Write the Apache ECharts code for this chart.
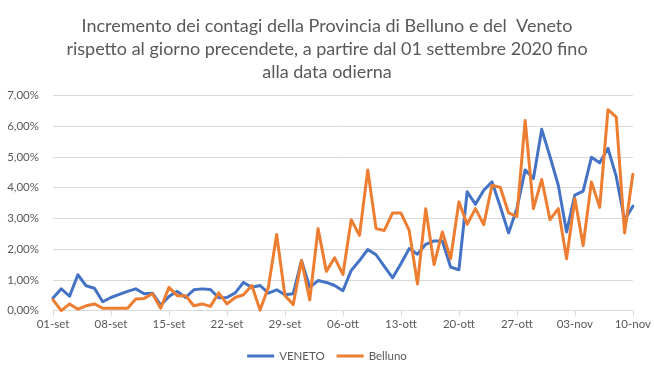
<!DOCTYPE html>
<html>
<head>
<meta charset="utf-8">
<script src="https://cdn.jsdelivr.net/npm/echarts@6/dist/echarts.min.js"></script>
<style>
html,body{margin:0;padding:0;background:#fff;}
#c{width:654px;height:372px;}
</style>
</head>
<body>
<div id="c"></div>
<script>
const titleLines = [
  'Incremento dei contagi della Provincia di Belluno e del  Veneto',
  'rispetto al giorno precendete, a partire dal 01 settembre 2020 fino',
  'alla data odierna'
];
const categories = [
  '01-set','02-set','03-set','04-set','05-set','06-set','07-set','08-set','09-set','10-set',
  '11-set','12-set','13-set','14-set','15-set','16-set','17-set','18-set','19-set','20-set',
  '21-set','22-set','23-set','24-set','25-set','26-set','27-set','28-set','29-set','30-set',
  '01-ott','02-ott','03-ott','04-ott','05-ott','06-ott','07-ott','08-ott','09-ott','10-ott',
  '11-ott','12-ott','13-ott','14-ott','15-ott','16-ott','17-ott','18-ott','19-ott','20-ott',
  '21-ott','22-ott','23-ott','24-ott','25-ott','26-ott','27-ott','28-ott','29-ott','30-ott',
  '31-ott','01-nov','02-nov','03-nov','04-nov','05-nov','06-nov','07-nov','08-nov','09-nov',
  '10-nov'
];
const seriesNames = ['VENETO', 'Belluno'];
const veneto = [
  0.41,0.71,0.47,1.17,0.81,0.73,0.29,0.43,0.53,0.63,
  0.71,0.55,0.57,0.18,0.46,0.63,0.43,0.68,0.71,0.69,
  0.42,0.43,0.58,0.92,0.76,0.82,0.57,0.68,0.52,0.55,
  1.63,0.76,0.98,0.92,0.82,0.65,1.31,1.63,1.99,1.82,
  1.44,1.07,1.53,2.02,1.84,2.16,2.27,2.27,1.42,1.33,
  3.87,3.46,3.92,4.19,3.38,2.53,3.32,4.58,4.30,5.90,
  5.01,4.08,2.56,3.76,3.89,4.99,4.81,5.28,4.36,2.94,
  3.40
];
const belluno = [
  0.35,0.00,0.22,0.05,0.16,0.22,0.08,0.08,0.08,0.08,
  0.38,0.40,0.55,0.08,0.76,0.49,0.49,0.16,0.22,0.14,
  0.58,0.22,0.43,0.52,0.82,0.02,0.76,2.48,0.49,0.20,
  1.63,0.35,2.67,1.28,1.72,1.18,2.96,2.45,4.58,2.67,
  2.61,3.18,3.18,2.61,0.87,3.32,1.50,2.56,1.69,3.54,
  2.81,3.32,2.80,4.08,4.01,3.18,3.07,6.19,3.32,4.27,
  2.96,3.32,1.69,3.65,2.12,4.19,3.36,6.54,6.30,2.53,
  4.44
];

const chart = echarts.init(document.getElementById('c'), null, {renderer: 'canvas'});
const txt = '#595959';
const font = 'Lato, "Open Sans", sans-serif';
chart.setOption({
  animation: false,
  backgroundColor: '#ffffff',
  title: {
    text: titleLines.join('\n'),
    left: 'center',
    top: 10,
    textStyle: {
      color: txt, fontFamily: font, fontSize: 18, fontWeight: 'normal', lineHeight: 23
    }
  },
  legend: {
    data: seriesNames,
    left: 'center',
    top: 345,
    icon: 'rect',
    itemWidth: 27,
    itemHeight: 3,
    itemGap: 12,
    textStyle: {color: txt, fontFamily: font, fontSize: 11.5}
  },
  grid: {left: 53, right: 18, top: 95.5, bottom: 61.3, containLabel: false},
  xAxis: {
    type: 'category',
    data: categories,
    boundaryGap: false,
    axisLine: {show: true, lineStyle: {color: '#d9d9d9', width: 1}},
    axisTick: {show: true, interval: 6, length: 5, lineStyle: {color: '#d9d9d9'}},
    axisLabel: {interval: 6, color: txt, fontFamily: font, fontSize: 11.5, margin: 8},
    splitLine: {show: false}
  },
  yAxis: {
    type: 'value',
    min: 0, max: 7, interval: 1,
    axisLine: {show: false},
    axisTick: {show: false},
    axisLabel: {
      color: txt, fontFamily: font, fontSize: 11.5, margin: 14,
      formatter: v => v.toFixed(2).replace('.', ',') + '%'
    },
    splitLine: {lineStyle: {color: '#d9d9d9', width: 1}}
  },
  series: [
    {
      name: seriesNames[0], type: 'line', data: veneto,
      symbol: 'none', smooth: false,
      lineStyle: {color: '#4472C4', width: 3, join: 'round', cap: 'round'},
      itemStyle: {color: '#4472C4'}
    },
    {
      name: seriesNames[1], type: 'line', data: belluno,
      symbol: 'none', smooth: false,
      lineStyle: {color: '#ED7D31', width: 3, join: 'round', cap: 'round'},
      itemStyle: {color: '#ED7D31'}
    }
  ]
});
</script>
</body>
</html>
